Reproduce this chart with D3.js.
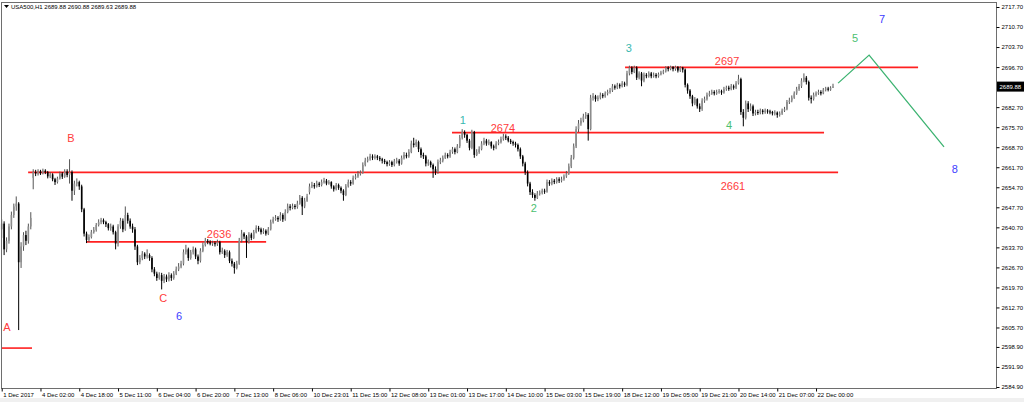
<!DOCTYPE html>
<meta charset="utf-8">
<style>
body { margin: 0; background: #fff; }
svg text { font-family: "Liberation Sans", Arial, sans-serif; }
.axis text { font-size: 6px; fill: #000; }
.axis line { stroke: #000; }
.axis path { display: none; }
.wick { stroke-width: 1px; }
.lbl { font-size: 11px; }
</style>
<svg width="1024" height="402"></svg>
<script src="https://d3js.org/d3.v7.min.js"></script>
<script>

// hourly closes, USA500 H1, 1 Dec - 22 Dec 2017
var closes = [
  2642.0, 2633.0, 2636.0, 2641.0, 2645.0, 2648.0, 2649.0, 2628.5, 2634.0, 2638.0,
  2636.0, 2641.0, 2644.0, 2660.0, 2659.5, 2660.3, 2659.6, 2660.5, 2660.0, 2658.5,
  2659.2, 2657.5, 2656.5, 2657.8, 2659.5, 2658.4, 2660.2, 2659.0, 2660.0, 2653.5,
  2656.0, 2656.5, 2655.0, 2647.0, 2638.5, 2636.3, 2637.3, 2639.0, 2639.8, 2641.5,
  2642.5, 2643.2, 2642.5, 2641.8, 2640.4, 2641.0, 2639.0, 2635.0, 2641.0, 2643.0,
  2640.0, 2645.0, 2643.0, 2641.0, 2640.0, 2634.0, 2628.5, 2630.0, 2631.5, 2630.5,
  2631.0, 2630.0, 2626.0, 2624.5, 2623.0, 2624.0, 2622.0, 2623.5, 2622.5, 2624.0,
  2623.0, 2624.5, 2626.0, 2627.0, 2628.0, 2632.0, 2633.0, 2630.0, 2632.0, 2633.0,
  2630.5, 2629.0, 2632.5, 2634.5, 2636.0, 2635.5, 2635.0, 2635.2, 2634.8, 2635.5,
  2632.0, 2632.5, 2631.0, 2632.0, 2629.0, 2628.0, 2626.5, 2628.0, 2636.0, 2638.5,
  2637.5, 2635.5, 2638.2, 2637.0, 2639.0, 2640.5, 2640.0, 2639.0, 2639.5, 2638.5,
  2640.0, 2642.5, 2643.5, 2644.0, 2643.5, 2645.0, 2643.5, 2646.0, 2648.0, 2647.5,
  2648.2, 2647.8, 2649.0, 2651.0, 2648.0, 2650.0, 2651.5, 2655.0, 2655.5, 2655.0,
  2656.0, 2655.5, 2656.5, 2657.0, 2656.0, 2656.5, 2655.0, 2654.0, 2655.5, 2654.5,
  2653.5, 2652.0, 2655.0, 2656.5, 2656.0, 2658.0, 2658.5, 2659.5, 2659.8, 2662.5,
  2664.0, 2664.5, 2665.5, 2665.0, 2665.5, 2665.0, 2664.5, 2664.0, 2663.5, 2662.8,
  2663.5, 2662.5, 2663.8, 2664.0, 2663.0, 2665.0, 2666.0, 2665.5, 2667.0, 2670.0,
  2669.5, 2670.5, 2668.0, 2666.0, 2665.5, 2663.0, 2663.5, 2662.5, 2661.0, 2660.0,
  2663.5, 2664.0, 2665.0, 2666.0, 2665.5, 2667.0, 2668.0, 2667.0, 2669.0, 2672.0,
  2674.0, 2673.0, 2671.0, 2668.5, 2674.0, 2666.0, 2667.0, 2668.0, 2670.0, 2671.0,
  2670.0, 2670.5, 2669.0, 2668.5, 2670.0, 2670.5, 2671.5, 2672.5, 2672.0, 2671.0,
  2670.5, 2670.0, 2669.5, 2668.0, 2665.5, 2663.0, 2660.0, 2656.0, 2653.0, 2652.0,
  2651.0, 2652.5, 2652.8, 2653.5, 2653.2, 2656.5, 2656.0, 2657.0, 2656.5, 2657.5,
  2657.0, 2657.5, 2658.5, 2659.5, 2662.0, 2665.0, 2669.0, 2675.0, 2677.0, 2678.0,
  2679.5, 2680.0, 2675.0, 2686.0, 2686.5, 2685.5, 2686.0, 2687.0, 2686.5, 2687.5,
  2688.0, 2688.5, 2690.0, 2689.5, 2690.5, 2690.0, 2691.0, 2690.5, 2694.5, 2696.5,
  2695.0, 2696.5, 2693.0, 2694.5, 2692.0, 2694.0, 2693.5, 2694.5, 2693.5, 2694.0,
  2693.5, 2694.2, 2694.8, 2695.2, 2696.5, 2696.0, 2696.8, 2696.0, 2696.8, 2695.5,
  2696.5, 2695.8, 2690.5, 2688.5, 2686.5, 2684.0, 2685.5, 2683.0, 2682.0, 2685.0,
  2685.5, 2687.0, 2687.5, 2688.0, 2687.5, 2688.0, 2688.3, 2687.8, 2689.0, 2689.5,
  2689.0, 2690.0, 2689.5, 2691.0, 2692.5, 2681.0, 2679.0, 2684.0, 2682.0, 2683.0,
  2680.5, 2681.0, 2680.8, 2681.5, 2681.0, 2681.5, 2681.2, 2681.0, 2680.5, 2680.8,
  2680.0, 2680.5, 2681.5, 2682.0, 2684.5, 2685.0, 2686.0, 2687.5, 2689.0, 2690.0,
  2692.0, 2693.0, 2691.5, 2686.0, 2685.5, 2687.0, 2687.5, 2688.0, 2687.5, 2688.8,
  2689.2, 2688.8, 2689.5, 2689.88
];

var highs = [
  2643.5, 2642.8, 2637.2, 2642.0, 2646.2, 2649.0, 2651.5, 2649.5, 2635.5, 2639.0,
  2639.5, 2642.0, 2646.0, 2661.0, 2660.8, 2661.0, 2660.8, 2661.2, 2661.0, 2660.4,
  2660.0, 2659.6, 2658.0, 2658.4, 2660.2, 2660.0, 2661.0, 2661.0, 2664.5, 2660.6,
  2657.0, 2657.8, 2657.0, 2655.6, 2647.5, 2639.2, 2638.2, 2639.8, 2640.8, 2642.2,
  2643.5, 2644.0, 2643.8, 2643.0, 2642.2, 2642.0, 2641.6, 2639.5, 2641.8, 2644.0,
  2643.8, 2648.0, 2645.8, 2643.8, 2642.0, 2640.8, 2634.6, 2631.0, 2632.4, 2632.0,
  2633.0, 2631.6, 2630.6, 2626.8, 2625.2, 2625.0, 2624.8, 2624.4, 2624.2, 2625.0,
  2624.6, 2625.4, 2627.0, 2628.2, 2629.0, 2633.0, 2634.6, 2633.6, 2632.8, 2634.0,
  2633.6, 2631.2, 2633.4, 2635.4, 2637.0, 2636.6, 2636.2, 2636.0, 2635.8, 2636.4,
  2636.0, 2633.6, 2633.0, 2632.8, 2632.6, 2629.8, 2628.6, 2629.0, 2637.0, 2639.8,
  2639.0, 2638.0, 2639.0, 2638.8, 2639.8, 2641.4, 2641.2, 2640.6, 2640.4, 2640.0,
  2640.8, 2643.4, 2644.4, 2645.0, 2644.6, 2646.0, 2645.6, 2647.0, 2649.0, 2648.8,
  2649.0, 2648.8, 2650.0, 2652.0, 2651.6, 2651.0, 2652.4, 2656.0, 2656.6, 2656.2,
  2657.0, 2656.6, 2657.4, 2658.0, 2657.6, 2657.2, 2656.8, 2655.4, 2656.2, 2656.0,
  2655.0, 2654.0, 2655.8, 2657.4, 2657.2, 2658.8, 2659.4, 2660.4, 2660.6, 2663.4,
  2665.0, 2665.4, 2666.4, 2666.2, 2666.2, 2666.0, 2665.6, 2665.0, 2664.6, 2664.0,
  2664.2, 2664.0, 2664.6, 2665.0, 2664.6, 2665.8, 2667.0, 2666.8, 2668.0, 2671.0,
  2672.0, 2671.4, 2671.0, 2668.6, 2666.8, 2666.0, 2664.4, 2664.0, 2663.0, 2662.0,
  2664.4, 2665.0, 2665.8, 2666.8, 2666.6, 2667.8, 2668.8, 2668.6, 2669.8, 2673.0,
  2675.0, 2674.6, 2673.4, 2671.6, 2674.8, 2674.4, 2668.0, 2669.0, 2670.8, 2672.0,
  2671.6, 2671.4, 2670.8, 2669.6, 2670.8, 2671.4, 2672.4, 2673.4, 2673.2, 2672.6,
  2671.6, 2671.0, 2670.6, 2670.0, 2668.6, 2666.0, 2663.6, 2660.6, 2656.6, 2654.0,
  2652.6, 2653.4, 2653.6, 2654.2, 2654.2, 2657.4, 2657.2, 2657.8, 2657.6, 2658.2,
  2658.2, 2658.4, 2659.2, 2660.4, 2663.0, 2666.0, 2670.0, 2676.0, 2678.2, 2679.0,
  2680.4, 2681.0, 2680.6, 2687.0, 2687.6, 2687.0, 2686.8, 2687.8, 2687.6, 2688.2,
  2688.8, 2689.4, 2690.8, 2690.6, 2691.2, 2691.0, 2691.8, 2691.6, 2695.4, 2697.2,
  2697.0, 2697.2, 2697.0, 2695.2, 2695.0, 2694.8, 2694.6, 2695.2, 2695.0, 2694.8,
  2694.6, 2694.8, 2695.4, 2695.8, 2697.0, 2697.0, 2697.2, 2697.0, 2697.2, 2697.0,
  2697.0, 2696.8, 2696.2, 2691.0, 2689.0, 2687.0, 2686.2, 2685.8, 2684.0, 2685.8,
  2686.4, 2687.8, 2688.4, 2688.8, 2688.6, 2688.8, 2689.0, 2688.8, 2689.8, 2690.2,
  2690.2, 2690.8, 2690.6, 2691.8, 2694.0, 2693.0, 2682.0, 2685.0, 2684.8, 2684.0,
  2683.6, 2681.8, 2681.8, 2682.2, 2682.0, 2682.2, 2682.0, 2681.8, 2681.4, 2681.6,
  2681.2, 2681.2, 2682.2, 2682.8, 2685.2, 2686.0, 2686.8, 2688.2, 2689.8, 2690.8,
  2692.8, 2694.5, 2693.6, 2692.0, 2686.8, 2687.8, 2688.2, 2688.8, 2688.6, 2689.4,
  2689.8, 2689.8, 2690.0, 2690.88
];

var lows = [
  2637.0, 2631.0, 2632.0, 2635.0, 2640.0, 2644.0, 2646.5, 2604.8, 2626.5, 2632.5,
  2634.5, 2635.0, 2640.0, 2654.0, 2658.6, 2658.8, 2659.0, 2659.2, 2659.3, 2657.8,
  2657.9, 2656.8, 2655.5, 2656.0, 2657.4, 2657.6, 2658.0, 2658.2, 2656.0, 2650.0,
  2652.0, 2655.0, 2653.8, 2646.0, 2637.5, 2635.2, 2635.6, 2636.8, 2638.5, 2639.2,
  2641.0, 2641.8, 2641.8, 2640.8, 2639.6, 2639.5, 2638.2, 2633.0, 2634.0, 2640.2,
  2639.0, 2639.5, 2642.0, 2640.2, 2638.8, 2632.8, 2627.5, 2627.8, 2629.2, 2629.6,
  2629.8, 2629.0, 2625.0, 2623.6, 2622.0, 2622.4, 2619.0, 2621.2, 2621.6, 2621.8,
  2622.0, 2622.4, 2624.0, 2625.4, 2626.4, 2627.4, 2631.2, 2629.0, 2629.4, 2631.2,
  2629.6, 2627.8, 2628.4, 2632.0, 2634.0, 2634.8, 2634.4, 2634.2, 2634.0, 2634.2,
  2631.2, 2631.4, 2630.0, 2630.4, 2628.2, 2627.0, 2624.5, 2626.0, 2627.6, 2635.4,
  2636.6, 2630.0, 2635.0, 2636.2, 2636.6, 2638.6, 2639.2, 2638.2, 2638.4, 2637.8,
  2638.0, 2639.6, 2642.0, 2643.0, 2642.6, 2643.0, 2642.6, 2643.0, 2645.6, 2646.6,
  2647.0, 2647.0, 2647.2, 2648.6, 2645.0, 2647.4, 2649.6, 2652.2, 2654.4, 2654.2,
  2654.6, 2654.8, 2655.0, 2656.0, 2655.4, 2655.6, 2654.2, 2653.2, 2653.6, 2653.8,
  2652.6, 2650.0, 2651.6, 2654.6, 2655.2, 2655.6, 2657.4, 2658.0, 2658.8, 2659.4,
  2662.0, 2663.4, 2664.0, 2664.2, 2664.4, 2664.2, 2663.8, 2663.0, 2662.8, 2662.0,
  2662.2, 2661.8, 2662.0, 2663.0, 2662.2, 2662.6, 2664.4, 2664.8, 2665.0, 2666.6,
  2668.6, 2668.8, 2667.0, 2665.0, 2664.6, 2662.0, 2662.2, 2661.6, 2658.0, 2659.0,
  2659.4, 2662.8, 2663.4, 2664.6, 2664.8, 2665.0, 2666.4, 2666.2, 2666.6, 2668.4,
  2671.4, 2672.0, 2670.2, 2667.6, 2668.0, 2665.0, 2665.6, 2666.4, 2667.6, 2669.4,
  2669.2, 2669.4, 2668.2, 2667.6, 2668.0, 2669.4, 2670.0, 2671.0, 2671.2, 2670.4,
  2669.8, 2669.2, 2668.6, 2667.2, 2664.6, 2662.0, 2659.0, 2655.0, 2652.0, 2651.0,
  2650.0, 2650.6, 2651.8, 2652.2, 2652.4, 2652.8, 2655.2, 2655.4, 2655.8, 2656.0,
  2656.2, 2656.4, 2657.0, 2658.0, 2659.0, 2661.4, 2664.4, 2668.4, 2674.0, 2676.2,
  2677.4, 2678.6, 2671.0, 2674.6, 2685.0, 2684.6, 2684.8, 2685.4, 2685.8, 2686.0,
  2686.8, 2687.4, 2688.0, 2688.8, 2689.0, 2689.2, 2689.6, 2689.8, 2690.0, 2693.8,
  2694.2, 2694.6, 2692.2, 2692.4, 2690.0, 2691.4, 2692.8, 2693.0, 2692.8, 2693.0,
  2692.8, 2693.0, 2693.8, 2694.2, 2694.8, 2695.2, 2695.6, 2695.2, 2695.4, 2694.8,
  2695.0, 2694.8, 2689.6, 2687.4, 2685.6, 2683.0, 2683.4, 2682.2, 2681.0, 2681.4,
  2684.2, 2685.0, 2686.4, 2687.0, 2686.8, 2687.0, 2687.4, 2687.0, 2687.4, 2688.4,
  2688.4, 2688.6, 2688.8, 2689.0, 2690.6, 2680.0, 2676.0, 2678.4, 2681.0, 2681.4,
  2679.6, 2679.8, 2680.0, 2680.2, 2680.2, 2680.4, 2680.4, 2680.2, 2679.8, 2679.8,
  2679.0, 2679.4, 2680.0, 2681.0, 2681.6, 2683.8, 2684.4, 2685.6, 2687.0, 2688.4,
  2689.4, 2691.4, 2690.6, 2685.0, 2684.0, 2685.0, 2686.4, 2687.0, 2686.8, 2687.2,
  2688.2, 2688.2, 2688.4, 2689.4
];

// bars that open away from the previous close (session starts / weekend gaps)
var gapOpens = [[0, 2640.0], [13, 2658.0], [127, 2653.0]];

var timeLabels = ["1 Dec 2017", "4 Dec 02:00", "4 Dec 18:00", "5 Dec 11:00", "6 Dec 04:00",
  "6 Dec 20:00", "7 Dec 13:00", "8 Dec 06:00", "10 Dec 23:01", "11 Dec 15:00", "12 Dec 08:00",
  "13 Dec 01:00", "13 Dec 17:00", "14 Dec 10:00", "15 Dec 03:00", "15 Dec 19:00", "18 Dec 12:00",
  "19 Dec 05:00", "19 Dec 21:00", "20 Dec 14:00", "21 Dec 07:00", "22 Dec 00:00"];
var timeLabelEvery = 16;

var priceTicks = [2717.70, 2710.70, 2703.70, 2696.70, 2682.70, 2675.70, 2668.70, 2661.70,
  2654.70, 2647.70, 2640.70, 2633.70, 2626.70, 2619.70, 2612.70, 2605.70, 2598.90, 2591.90, 2584.90];

// horizontal levels: price, from bar, to bar
var levels = [
  [2659.9, 10.9, 345.1],
  [2635.6, 35.2, 109.1],
  [2673.8, 185.8, 339.3],
  [2696.6, 257.2, 378.1],
  [2598.5, 0.1, 12.5]
];

// projected path (bar, price)
var projBar = [345.1, 357.9, 388.8];
var projPrice = [2691.1, 2700.9, 2668.8];

// wave labels
var labelText  = ["A", "B", "C", "6", "2636", "1", "2674", "2", "3", "2697", "4", "2661", "5", "7", "8"];
var labelBar   = [2.2, 28.6, 66.6, 73.2, 89.7, 190.3, 206.8, 219.6, 258.8, 299.3, 300.1, 301.7, 352.1, 363.2, 393.3];
var labelPrice = [2605.9, 2671.9, 2616.0, 2609.7, 2638.4, 2678.2, 2675.4, 2647.4, 2703.4, 2698.8, 2676.5, 2655.1, 2706.9, 2713.5, 2661.1];
var labelKind  = ["abc", "abc", "abc", "count", "abc", "wave", "abc", "wave2", "wave", "abc", "wave2", "abc", "wave2", "count", "count"];

var header = "USA500,H1  2689.88 2690.88 2689.63 2689.88";

var svg = d3.select("svg"),
    width = +svg.attr("width"),
    height = +svg.attr("height");

var frame = {left: 1.5, top: 2.5, right: 996.5, bottom: 388.5};

var x = d3.scaleLinear().domain([0, closes.length - 1]).range([1.7, 833]);
var y = d3.scaleLinear().domain([2584.9, 2717.7]).range([387, 7]);

var kindColor = {abc: "#ff3c3c", wave: "#38b8b0", wave2: "#4cbf70", count: "#3c3cff"};

var bars = closes.map(function(c, i) {
  return {i: i, open: i > 0 ? closes[i - 1] : c, close: c, high: highs[i], low: lows[i]};
});
gapOpens.forEach(function(g) { bars[g[0]].open = g[1]; });

svg.append("rect")
    .attr("x", 0).attr("y", 398)
    .attr("width", width).attr("height", height - 398)
    .attr("fill", "#f0f0f0");

// levels
svg.append("g").selectAll("line")
  .data(levels)
  .enter().append("line")
    .attr("x1", function(d) { return x(d[1]); })
    .attr("x2", function(d) { return x(d[2]); })
    .attr("y1", function(d) { return y(d[0]); })
    .attr("y2", function(d) { return y(d[0]); })
    .attr("stroke", "#ff2020")
    .attr("stroke-width", 1.6);

// candles
var candle = svg.append("g").selectAll("g")
  .data(bars)
  .enter().append("g");

candle.append("line")
    .attr("class", "wick")
    .attr("x1", function(d) { return x(d.i); })
    .attr("x2", function(d) { return x(d.i); })
    .attr("y1", function(d) { return y(d.high); })
    .attr("y2", function(d) { return y(d.low); })
    .attr("stroke", function(d) { return d.close >= d.open ? "#555" : "#000"; });

candle.append("rect")
    .attr("x", function(d) { return x(d.i) - 0.8; })
    .attr("width", 1.6)
    .attr("y", function(d) { return y(Math.max(d.open, d.close)); })
    .attr("height", function(d) { return Math.max(1, Math.abs(y(d.open) - y(d.close))); })
    .attr("fill", function(d) { return d.close >= d.open ? "#8c8c8c" : "#000"; });

// projection
svg.append("path")
    .datum(d3.zip(projBar, projPrice))
    .attr("fill", "none")
    .attr("stroke", "#3cb371")
    .attr("stroke-width", 1.3)
    .attr("d", d3.line().x(function(d) { return x(d[0]); }).y(function(d) { return y(d[1]); }));

// labels
svg.append("g").selectAll("text")
  .data(labelText)
  .enter().append("text")
    .attr("class", "lbl")
    .attr("x", function(d, i) { return x(labelBar[i]); })
    .attr("y", function(d, i) { return y(labelPrice[i]); })
    .attr("text-anchor", "middle")
    .attr("dominant-baseline", "central")
    .attr("fill", function(d, i) { return kindColor[labelKind[i]]; })
    .text(function(d) { return d; });

// frame
svg.append("rect")
    .attr("x", frame.left).attr("y", frame.top)
    .attr("width", frame.right - frame.left)
    .attr("height", frame.bottom - frame.top)
    .attr("fill", "none")
    .attr("stroke", "#6e6e6e");

// price axis
svg.append("g")
    .attr("class", "axis")
    .attr("transform", "translate(" + frame.right + ",0)")
    .call(d3.axisRight(y).tickValues(priceTicks).tickSize(3).tickPadding(2).tickFormat(d3.format(".2f")));

// time axis
svg.append("g")
    .attr("class", "axis")
    .attr("transform", "translate(0," + frame.bottom + ")")
    .call(d3.axisBottom(x)
      .tickValues(timeLabels.map(function(d, i) { return i * timeLabelEvery; }))
      .tickSize(3).tickPadding(1)
      .tickFormat(function(d, i) { return timeLabels[i]; }))
  .selectAll("text")
    .attr("text-anchor", "start")
    .attr("dx", 1);

// last price marker
var last = closes[closes.length - 1];
svg.append("rect")
    .attr("x", frame.right + 0.5).attr("y", y(last) - 5)
    .attr("width", 27).attr("height", 10)
    .attr("fill", "#000");
svg.append("text")
    .attr("x", frame.right + 3).attr("y", y(last))
    .attr("dominant-baseline", "central")
    .attr("font-size", "6px")
    .attr("fill", "#fff")
    .text(d3.format(".2f")(last));

// header
svg.append("path")
    .attr("d", "M4,5 L9,5 L6.5,8 Z")
    .attr("fill", "#000");
svg.append("text")
    .attr("x", 11).attr("y", 7)
    .attr("dominant-baseline", "central")
    .attr("font-size", "6px")
    .attr("fill", "#000")
    .text(header);

</script>
